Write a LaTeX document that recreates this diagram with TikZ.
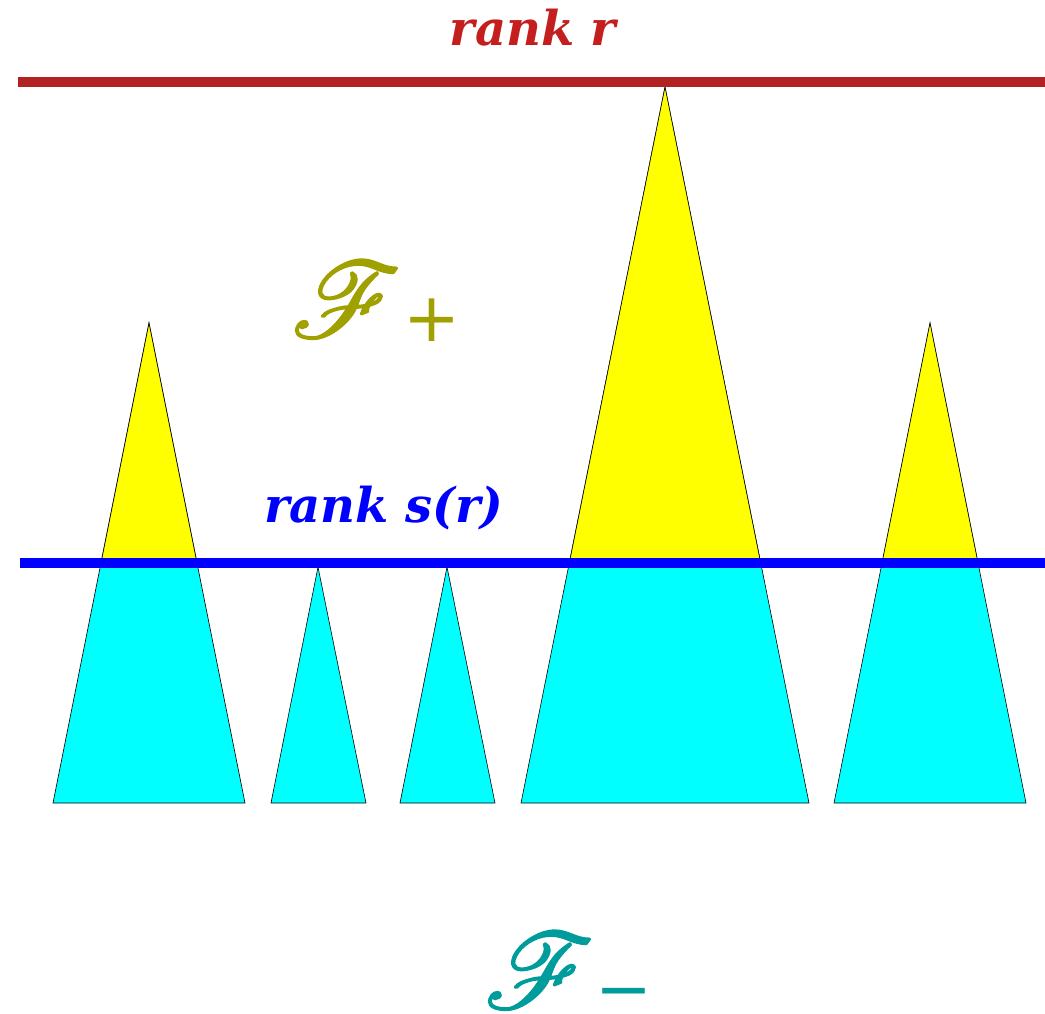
\documentclass[tikz,border=0pt]{standalone}
\usepackage{fontspec}
\newfontfamily\rankfont{DejaVu Serif}
\newfontfamily\symfont{DejaVu Sans}
\DeclareFontFamily{U}{rsfsx}{\skewchar\font=127 }
\DeclareFontShape{U}{rsfsx}{m}{n}{<-> rsfs10}{}
\newcommand{\scrF}{{\special{pdf:literal direct 2 Tr 1.6 w}\usefont{U}{rsfsx}{m}{n}F\special{pdf:literal direct 0 Tr}}}
\definecolor{rankred}{HTML}{C41E1E}
\definecolor{linered}{HTML}{B22222}
\definecolor{olivef}{HTML}{A0A000}
\definecolor{tealf}{HTML}{009C9C}
\definecolor{cyanx}{RGB}{0,255,255}
\definecolor{yellowx}{RGB}{255,255,0}
\definecolor{bluex}{RGB}{0,0,255}
\begin{document}
\begin{tikzpicture}[x=1pt,y=-1pt,
  tri/.style={fill=cyanx,draw=black,line width=0.6pt,line join=miter},
  toppart/.style={fill=yellowx,draw=black,line width=0.6pt},
  rankline/.style={line width=10pt},
  ranklabel/.style={font=\rankfont\bfseries\itshape\fontsize{48}{54}\selectfont, inner sep=0pt},
  scriptlabel/.style={inner sep=0pt,anchor=base west,font=\fontsize{107}{117}\selectfont},
  signlabel/.style={inner sep=0pt,font=\symfont\fontsize{68}{76}\selectfont}]
\useasboundingbox (0,0) rectangle (1045,1013);
% triangles (full, cyan)
\filldraw[tri] (149,323) -- (245,803) -- (53,803) -- cycle;
\filldraw[tri] (318,567) -- (366,803) -- (271,803) -- cycle;
\filldraw[tri] (447,567) -- (495,803) -- (400,803) -- cycle;
\filldraw[tri] (665,87) -- (809,803) -- (521,803) -- cycle;
\filldraw[tri] (930,323) -- (1026,803) -- (834,803) -- cycle;
% yellow upper parts
\filldraw[toppart] (149,323) -- (197,563) -- (101,563) -- cycle;
\filldraw[toppart] (665,87) -- (760.7,563) -- (569.3,563) -- cycle;
\filldraw[toppart] (930,323) -- (978,563) -- (882,563) -- cycle;
% rank lines
\coordinate (rl) at (18,82); \coordinate (rr) at (1045,82);
\coordinate (sl) at (20,563); \coordinate (sr) at (1045,563);
\draw[rankline,linered] (rl) -- (rr);
\draw[rankline,bluex] (sl) -- (sr);
% labels
\node[ranklabel,text=rankred] (lr) at (533,28) {rank r};
\node[ranklabel,text=bluex] (ls) at (384,508) {rank s(r)};
\node[scriptlabel,text=olivef] (fp) at (291,337) {\scrF};
\node[signlabel,text=olivef] (fpp) at (432,320) {+};
\node[scriptlabel,text=tealf] (fm) at (484,1008) {\scrF};
\node[signlabel,text=tealf,anchor=base] (fmm) at (624,1012) {−};
\end{tikzpicture}
\end{document}
